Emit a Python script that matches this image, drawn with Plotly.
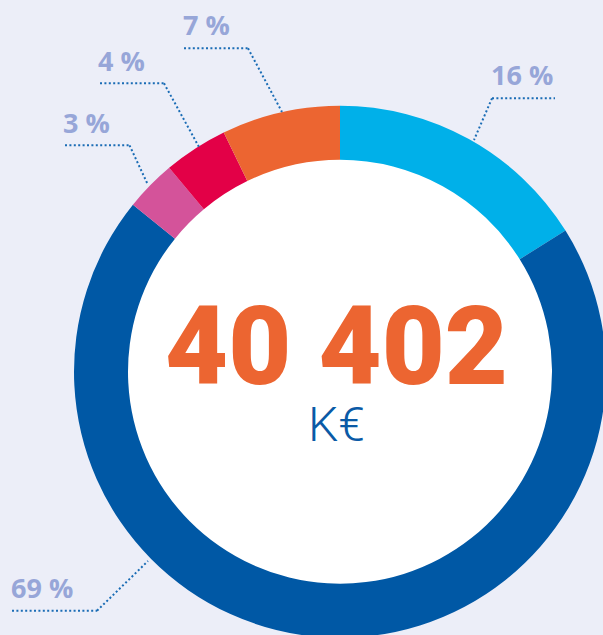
import plotly.graph_objects as go

# ---- data ----
categories = ["A", "B", "C", "D", "E"]
shares = [16.1, 69.7, 3.1, 3.9, 7.2]
share_labels = ["16 %", "69 %", "3 %", "4 %", "7 %"]
colors = ["#00b0e9", "#0058a5", "#d4539a", "#e30047", "#ec6531"]
total_value = "40 402"
total_unit = "K€"

# ---- layout geometry (pixels) ----
W, H = 700, 700
CX, CY = 340, 371.7
R_OUT, R_IN = 266, 212

def px(x):
    return x / W

def py(y):
    return 1 - y / H

fig = go.Figure()
fig.add_trace(go.Pie(
    labels=categories, values=shares, sort=False, direction="clockwise",
    rotation=0, hole=R_IN / R_OUT, textinfo="none", hoverinfo="label+percent",
    marker=dict(colors=colors, line=dict(width=0)),
    domain=dict(x=[px(CX - R_OUT), px(CX + R_OUT)], y=[py(CY + R_OUT), py(CY - R_OUT)]),
    showlegend=False,
))

shapes = [dict(type="circle", xref="paper", yref="paper", layer="below",
               x0=px(CX - R_IN - 4), x1=px(CX + R_IN + 4),
               y0=py(CY + R_IN + 4), y1=py(CY - R_IN - 4),
               fillcolor="white", line=dict(width=0))]

leaders = [
    dict(tx=492, ty=76, ly=98.3, hx0=492, hx1=555, ex=492, tipx=474, tipy=140),
    dict(tx=12, ty=588, ly=610.7, hx0=12, hx1=97, ex=97, tipx=148, tipy=561),
    dict(tx=64, ty=123.5, ly=145.3, hx0=65, hx1=129.5, ex=129.5, tipx=148, tipy=185),
    dict(tx=99, ty=61, ly=83.3, hx0=100, hx1=164, ex=164, tipx=199, tipy=147),
    dict(tx=184, ty=25.5, ly=48.3, hx0=184, hx1=248, ex=248, tipx=282, tipy=112),
]

line_style = dict(color="#1a6cb5", width=2, dash="2px,2.4px")
annotations = []
for lab, L in zip(share_labels, leaders):
    shapes.append(dict(type="line", xref="paper", yref="paper",
                       x0=px(L["hx0"]), x1=px(L["hx1"]), y0=py(L["ly"]), y1=py(L["ly"]),
                       line=line_style))
    shapes.append(dict(type="line", xref="paper", yref="paper",
                       x0=px(L["ex"]), x1=px(L["tipx"]), y0=py(L["ly"]), y1=py(L["tipy"]),
                       line=line_style))
    annotations.append(dict(text=lab, xref="paper", yref="paper", x=px(L["tx"] - 3), y=py(L["ty"] - 1),
                            xanchor="left", yanchor="middle", showarrow=False,
                            font=dict(family="Open Sans", size=27, color="#97a6d8", weight="bold")))

center_text = (
    f"<span style='font-size:109px;font-weight:900;fill:#ec6531;font-family:Roboto'>{total_value}</span>"
    f"<br><span style='font-size:48px;font-weight:300;fill:#0a5aa6;font-family:Roboto'>{total_unit}</span>"
)
annotations.append(dict(text=center_text, xref="paper", yref="paper", x=px(336), y=py(368),
                        xanchor="center", yanchor="middle", align="center", showarrow=False,
                        font=dict(family="Roboto", size=44, color="#ec6531")))

fig.update_layout(
    width=W, height=H, margin=dict(l=0, r=0, t=0, b=0),
    paper_bgcolor="#eceef8", plot_bgcolor="#eceef8",
    shapes=shapes, annotations=annotations,
)

fig.write_html("out.html", post_script=(
    "document.body.style.margin='0';"
    "document.body.style.overflow='hidden';"
    "document.documentElement.style.overflow='hidden';"
))
